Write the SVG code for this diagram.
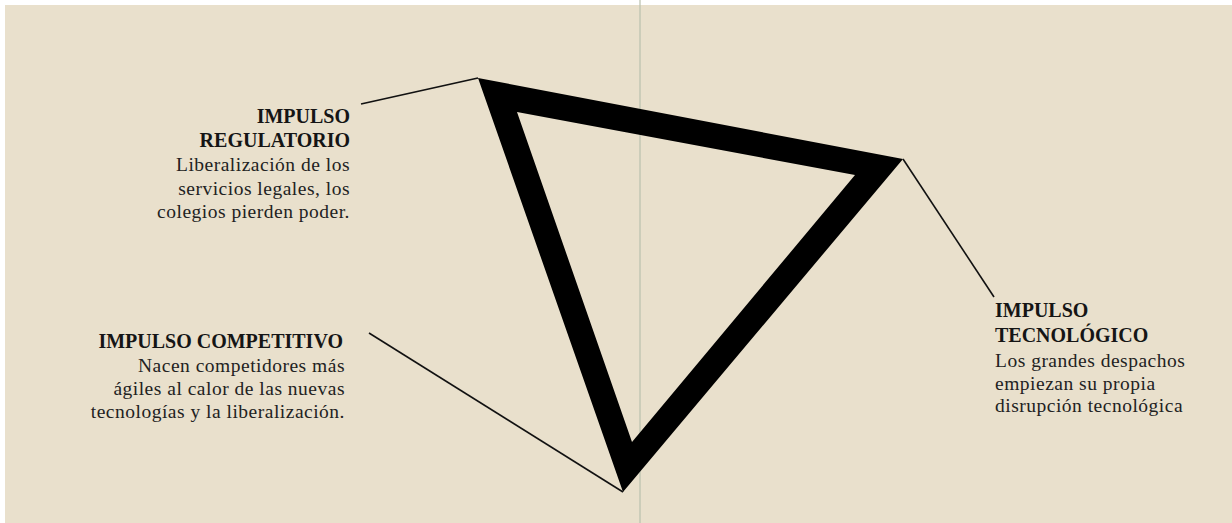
<svg xmlns="http://www.w3.org/2000/svg" width="1232" height="523" viewBox="0 0 1232 523">
<style>
.h{font-family:"Liberation Serif","Times New Roman",serif;font-weight:bold;font-size:20px;fill:#151515}
.b{font-family:"Liberation Serif","Times New Roman",serif;font-size:19.5px;letter-spacing:0.5px;fill:#222}
.ld{stroke:#111;stroke-width:1.6;fill:none}
</style>
<rect x="0" y="0" width="1232" height="523" fill="#ffffff"/>
<rect x="5" y="5" width="1227" height="518" fill="#e9e0cc"/>
<line x1="640" y1="0" x2="640" y2="523" stroke="#b9c0ad" stroke-width="1.2"/>
<g id="triangle">
<path d="M478 78 L903 159 L623 492 Z M517 112 L632 442 L855 175 Z" fill="#000" fill-rule="evenodd"/>
</g>
<g id="connectors">
<line class="ld" x1="478" y1="78" x2="361" y2="104"/>
<line class="ld" x1="903" y1="159" x2="994" y2="297"/>
<line class="ld" x1="623" y1="492" x2="369" y2="333"/>
</g>
<g id="regulatorio" text-anchor="end">
<text class="h" x="350" y="123">IMPULSO</text>
<text class="h" x="350" y="147">REGULATORIO</text>
<text class="b" x="350" y="171">Liberalización de los</text>
<text class="b" x="350" y="195">servicios legales, los</text>
<text class="b" x="350" y="218">colegios pierden poder.</text>
</g>
<g id="competitivo" text-anchor="end">
<text class="h" x="343" y="348">IMPULSO COMPETITIVO</text>
<text class="b" x="345" y="372">Nacen competidores más</text>
<text class="b" x="345" y="395">ágiles al calor de las nuevas</text>
<text class="b" x="345" y="418">tecnologías y la liberalización.</text>
</g>
<g id="tecnologico">
<text class="h" x="995" y="317">IMPULSO</text>
<text class="h" x="995" y="342">TECNOLÓGICO</text>
<text class="b" x="995" y="367">Los grandes despachos</text>
<text class="b" x="995" y="390">empiezan su propia</text>
<text class="b" x="995" y="412">disrupción tecnológica</text>
</g>
</svg>
